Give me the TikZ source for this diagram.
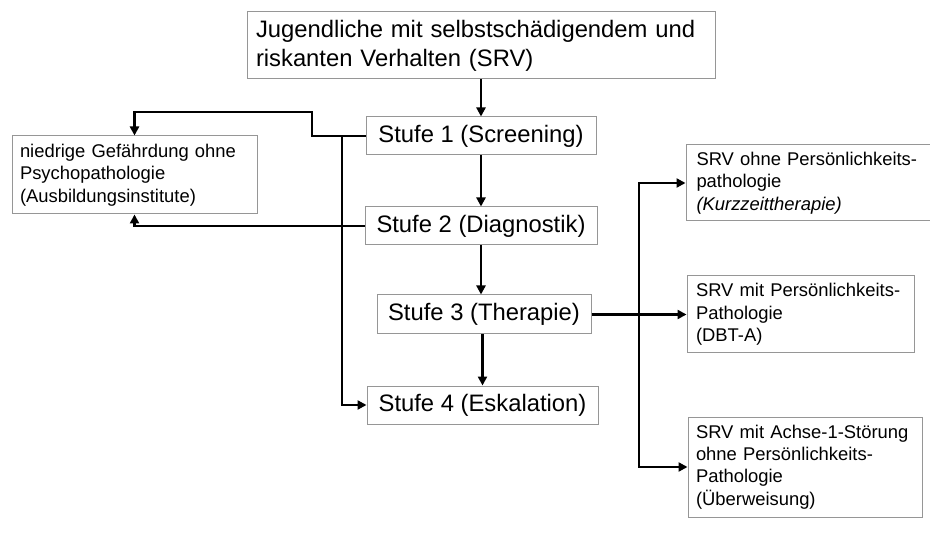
\documentclass[tikz,border=0pt]{standalone}
\usepackage{fontspec}
\setmainfont{Liberation Sans}
\usetikzlibrary{arrows.meta}
\definecolor{boxgray}{RGB}{150,150,150}
\tikzset{
  box/.style={draw=boxgray, line width=1pt, fill=white, inner ysep=0pt},
  bigbox/.style={box, font=\fontsize{23.8}{29}\selectfont},
  stufebox/.style={box, font=\fontsize{23.8}{28}\selectfont, align=center},
  smallbox/.style={box, font=\fontsize{18.4}{22.3}\selectfont, align=left},
  conn/.style={line width=2.9pt, line join=miter},
  arr/.style={conn, -{Triangle[length=9pt,width=9pt]}},
  arrs/.style={conn, {Triangle[length=9pt,width=9pt]}-{Triangle[length=9pt,width=9pt]}}
}
\begin{document}
\begin{tikzpicture}[x=1pt,y=-1pt]
\useasboundingbox[fill=white] (0,0) rectangle (930,548);

\node[bigbox, align=left, text width=450pt, inner xsep=9pt, minimum height=67pt] (top) at (481,45.5)
  {Jugendliche mit selbstschädigendem und\\riskanten Verhalten (SRV)};

\node[stufebox, minimum width=230pt, minimum height=38pt] (s1) at (481,136) {Stufe 1 (Screening)};
\node[stufebox, minimum width=232pt, minimum height=38pt] (s2) at (481,226) {Stufe 2 (Diagnostik)};
\node[stufebox, minimum width=214pt, minimum height=39pt] (s3) at (484,314.5) {Stufe 3 (Therapie)};
\node[stufebox, minimum width=231pt, minimum height=38pt] (s4) at (482.5,405) {Stufe 4 (Eskalation)};

\node[smallbox, text width=229pt, inner xsep=8pt, minimum height=78pt] (lb) at (134.5,175)
  {niedrige Gefährdung ohne\\Psychopathologie\\(Ausbildungsinstitute)};

\node[smallbox, text width=223pt, inner xsep=10.5pt, minimum height=76pt] (ba) at (808,183)
  {SRV ohne Persönlichkeits-\\pathologie\\\textit{(Kurzzeittherapie)}};
\node[smallbox, text width=209pt, inner xsep=9pt, minimum height=77pt] (bb) at (800.5,314.5)
  {SRV mit Persönlichkeits-\\Pathologie\\(DBT-A)};
\node[smallbox, text width=218pt, inner xsep=8pt, minimum height=100pt] (bc) at (805,467)
  {SRV mit Achse-1-Störung\\ohne Persönlichkeits-\\Pathologie\\(Überweisung)};

\coordinate (k1) at (312,112);
\coordinate (j1) at (342,0);
\coordinate (j2) at (639,0);

% main chain
\draw[arr] (top.south) -- (s1.north);
\draw[arr] (s1.south) -- (s2.north);
\draw[arr] (s2.south) -- (s2.south |- s3.north);
\draw[arr] (s4.north |- s3.south) -- (s4.north);

% left branches
\draw[arr] (s1.west) -| (k1) -| (lb.north);
\draw[arr] (s1.west -| j1) |- (s4.west);
\draw[arr] (s2.west) -| (lb.south);

% right branches
\draw[arrs] (ba.west) -| (j2 |- bc.west) -- (bc.west);
\draw[arr] (s3.east) -- (bb.west);
\end{tikzpicture}
\end{document}
